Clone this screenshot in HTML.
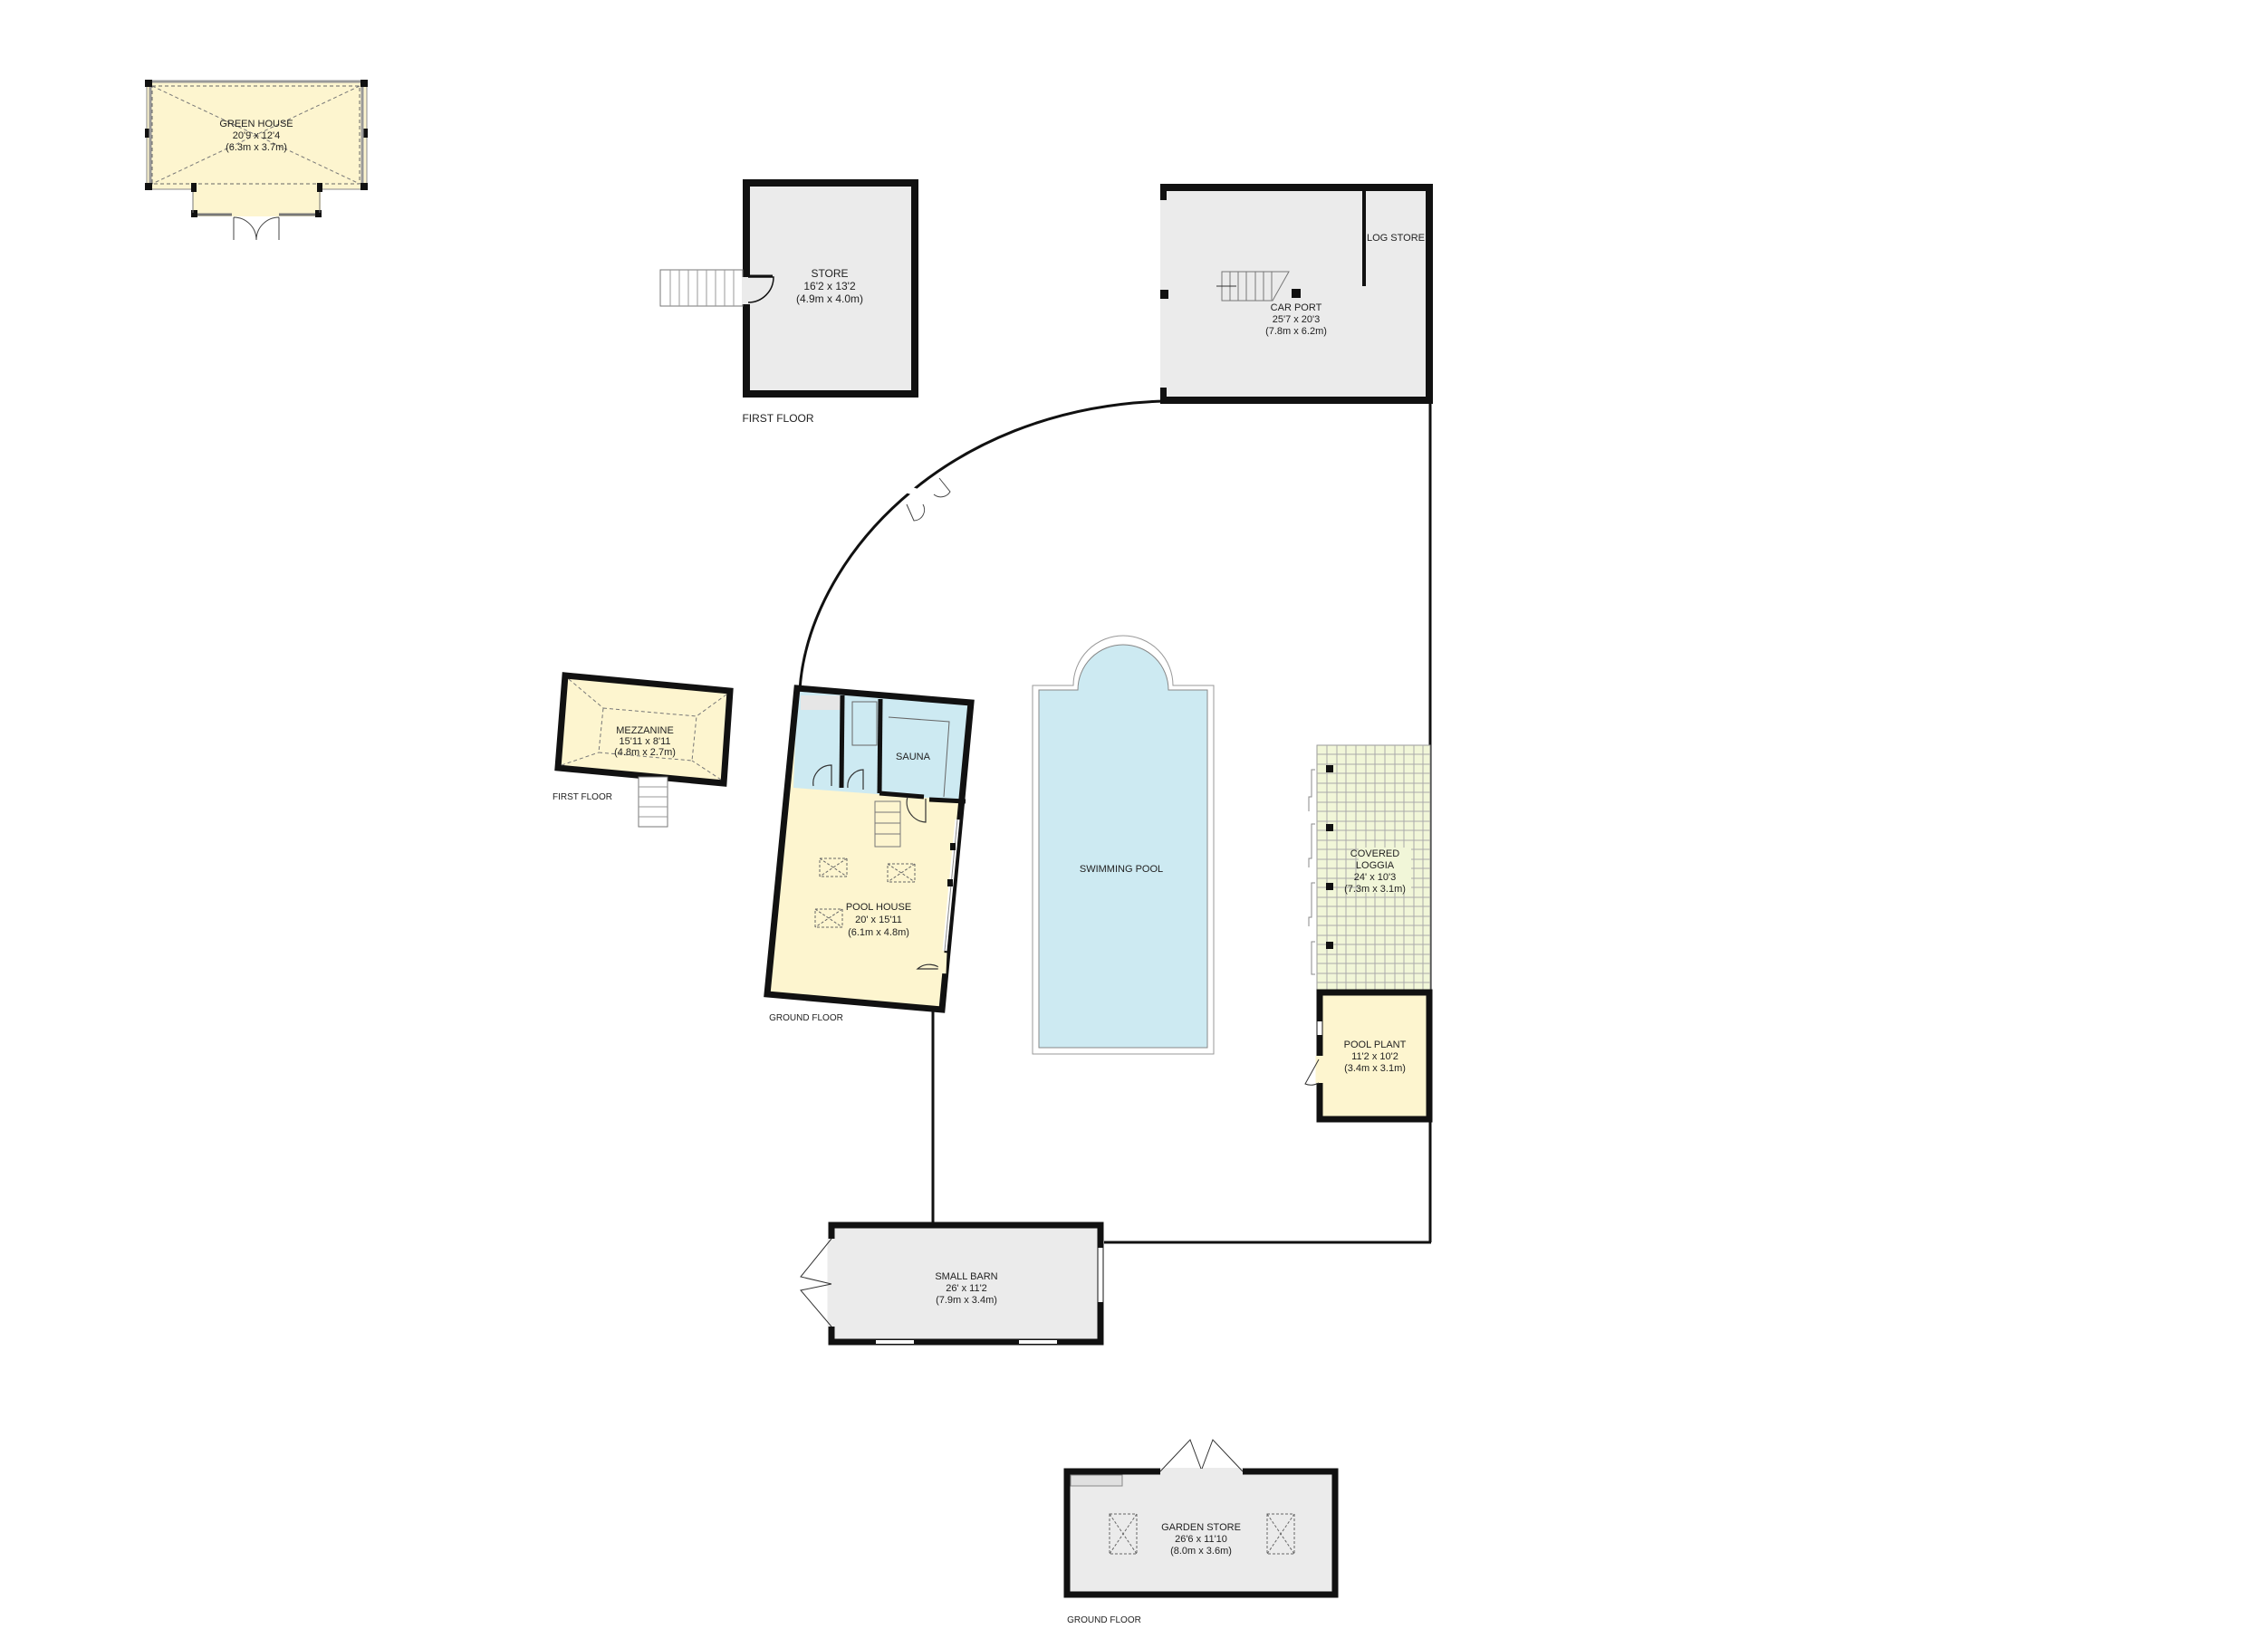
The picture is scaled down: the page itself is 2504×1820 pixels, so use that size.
<!DOCTYPE html>
<html><head><meta charset="utf-8"><style>
html,body{margin:0;padding:0;background:#fff}
svg{display:block}
text{font-family:"Liberation Sans",Arial,sans-serif;font-size:11px;fill:#222;text-anchor:middle}
</style></head><body>
<svg width="2504" height="1820" viewBox="0 0 2504 1820" xmlns="http://www.w3.org/2000/svg">
<!-- GREEN HOUSE -->
<rect x="162" y="89" width="243" height="120" fill="#fdf5cf" stroke="#888" stroke-width="1"/>
<rect x="213" y="205" width="141" height="34" fill="#fdf5cf"/>
<rect x="168" y="95" width="229" height="108" fill="none" stroke="#666" stroke-dasharray="4 3"/>
<line x1="168" y1="95" x2="397" y2="203" stroke="#777" stroke-dasharray="4 3"/>
<line x1="397" y1="95" x2="168" y2="203" stroke="#777" stroke-dasharray="4 3"/>
<rect x="160" y="88" width="8" height="8" fill="#111"/><rect x="398" y="88" width="8" height="8" fill="#111"/>
<rect x="160" y="202" width="8" height="8" fill="#111"/><rect x="398" y="202" width="8" height="8" fill="#111"/>
<rect x="160" y="142" width="6" height="10" fill="#111"/><rect x="400" y="142" width="6" height="10" fill="#111"/>
<rect x="211" y="202" width="6" height="10" fill="#111"/><rect x="350" y="202" width="6" height="10" fill="#111"/>
<rect x="211" y="232" width="7" height="8" fill="#111"/><rect x="348" y="232" width="7" height="8" fill="#111"/>
<line x1="213" y1="212" x2="213" y2="235" stroke="#777"/><line x1="353" y1="212" x2="353" y2="235" stroke="#777"/>
<line x1="218" y1="237" x2="256" y2="237" stroke="#777" stroke-width="3"/><line x1="308" y1="237" x2="348" y2="237" stroke="#777" stroke-width="3"/>
<line x1="166" y1="96" x2="166" y2="202" stroke="#999" stroke-width="3"/><line x1="400" y1="96" x2="400" y2="202" stroke="#999" stroke-width="3"/>
<line x1="168" y1="90" x2="398" y2="90" stroke="#999" stroke-width="3"/>
<path d="M258,240 V265 M258,240 A25,25 0 0 1 283,265 M308,240 V265 M308,240 A25,25 0 0 0 283,265" fill="none" stroke="#444"/>
<text x="283" y="140">GREEN HOUSE</text><text x="283" y="153">20'9 x 12'4</text><text x="283" y="166">(6.3m x 3.7m)</text>

<!-- STORE -->
<rect x="824" y="202" width="186" height="233" fill="#ebebeb" stroke="#111" stroke-width="8"/>
<g stroke="#777" fill="#fff"><rect x="729" y="298" width="91" height="40"/></g>
<g stroke="#999"><line x1="740" y1="298" x2="740" y2="338"/><line x1="750" y1="298" x2="750" y2="338"/><line x1="760" y1="298" x2="760" y2="338"/><line x1="770" y1="298" x2="770" y2="338"/><line x1="780" y1="298" x2="780" y2="338"/><line x1="790" y1="298" x2="790" y2="338"/><line x1="800" y1="298" x2="800" y2="338"/><line x1="810" y1="298" x2="810" y2="338"/></g>
<rect x="819" y="306" width="10" height="30" fill="#ebebeb"/>
<path d="M826,306 H854 A28,28 0 0 1 826,334" fill="none" stroke="#111" stroke-width="1.5"/>
<line x1="826" y1="305" x2="853" y2="305" stroke="#111" stroke-width="3"/>
<text x="916" y="306" style="font-size:12px">STORE</text><text x="916" y="320" style="font-size:12px">16'2 x 13'2</text><text x="916" y="334" style="font-size:12px">(4.9m x 4.0m)</text>
<text x="859" y="466" style="font-size:12px">FIRST FLOOR</text>

<!-- CAR PORT -->
<rect x="1281" y="207" width="297" height="235" fill="#ebebeb"/>
<path d="M1281,207 H1578 V442 H1281" fill="none" stroke="#111" stroke-width="8"/>
<rect x="1281" y="203" width="7" height="18" fill="#111"/><rect x="1281" y="320" width="9" height="10" fill="#111"/><rect x="1281" y="428" width="7" height="15" fill="#111"/>
<line x1="1506" y1="208" x2="1506" y2="316" stroke="#111" stroke-width="4"/>
<rect x="1426" y="319" width="10" height="10" fill="#111"/>
<g stroke="#777" fill="none"><path d="M1349,300 H1423 L1405,332 H1349 Z"/><line x1="1358" y1="300" x2="1358" y2="332"/><line x1="1367" y1="300" x2="1367" y2="332"/><line x1="1376" y1="300" x2="1376" y2="332"/><line x1="1386" y1="300" x2="1386" y2="332"/><line x1="1395" y1="300" x2="1395" y2="332"/><line x1="1404" y1="300" x2="1404" y2="332"/><line x1="1343" y1="316" x2="1365" y2="316" stroke="#333"/></g>
<text x="1431" y="343">CAR PORT</text><text x="1431" y="356">25'7 x 20'3</text><text x="1431" y="369">(7.8m x 6.2m)</text>
<text x="1541" y="266">LOG STORE</text>

<!-- boundary lines -->
<path d="M1285,443 C1040,450 892,620 883,762" fill="none" stroke="#111" stroke-width="3"/>
<line x1="1000" y1="540" x2="1046" y2="554" stroke="#fff" stroke-width="8"/>
<path d="M1037,528 l12,15 a12,12 0 0 1 -18,3 M1001,557 l8,18 a12,12 0 0 0 10,-18" fill="none" stroke="#444"/>
<line x1="1579" y1="442" x2="1579" y2="1372" stroke="#111" stroke-width="3"/>
<line x1="1219" y1="1372" x2="1580" y2="1372" stroke="#111" stroke-width="3"/>
<line x1="1030" y1="1112" x2="1030" y2="1352" stroke="#111" stroke-width="3"/>

<!-- MEZZANINE -->
<polygon points="624,746 806,763 799,865 616,848" fill="#fdf5cf" stroke="#111" stroke-width="7"/>
<polygon points="666,782 769,791 764,840 661,831" fill="none" stroke="#777" stroke-dasharray="4 3"/>
<g stroke="#777" stroke-dasharray="4 3"><line x1="628" y1="750" x2="666" y2="782"/><line x1="802" y1="767" x2="769" y2="791"/><line x1="796" y1="861" x2="764" y2="840"/><line x1="620" y1="845" x2="661" y2="831"/></g>
<rect x="705" y="858" width="32" height="55" fill="#fff" stroke="#777"/>
<g stroke="#999"><line x1="705" y1="869" x2="737" y2="869"/><line x1="705" y1="880" x2="737" y2="880"/><line x1="705" y1="891" x2="737" y2="891"/><line x1="705" y1="902" x2="737" y2="902"/></g>
<text x="712" y="810">MEZZANINE</text><text x="712" y="822">15'11 x 8'11</text><text x="712" y="834">(4.8m x 2.7m)</text>
<text x="643" y="883" style="font-size:10px">FIRST FLOOR</text>

<!-- POOL HOUSE -->
<polygon points="880,760 1072,776 1040,1115 847,1098" fill="#fdf5cf"/>
<polygon points="880,760 1072,776 1061,884 876,870" fill="#cdeaf2"/>
<rect x="884" y="768" width="46" height="16" fill="#e6e6e6"/>
<g stroke="#111" stroke-width="5" fill="none"><line x1="930" y1="768" x2="929" y2="870"/><line x1="972" y1="772" x2="971" y2="876"/><line x1="971" y1="876" x2="1020" y2="880"/><line x1="1026" y1="883" x2="1066" y2="885"/></g>
<rect x="941" y="775" width="27" height="48" fill="none" stroke="#666"/>
<path d="M981,792 L1048,797 L1042,880" fill="none" stroke="#666"/>
<path d="M898,868 A20,20 0 0 1 918,845 V868 M936,870 A18,18 0 0 1 953,850 V872 M1002,880 A22,22 0 0 0 1022,908 V882" fill="none" stroke="#333" stroke-width="1.2"/>
<path d="M1041,1072 A20,20 0 0 0 1013,1070 H1040" fill="none" stroke="#333" stroke-width="1.2"/>
<g stroke="#777" fill="none"><rect x="966" y="885" width="28" height="50"/><line x1="966" y1="897" x2="994" y2="897"/><line x1="966" y1="909" x2="994" y2="909"/><line x1="966" y1="921" x2="994" y2="921"/></g>
<g stroke="#666" stroke-dasharray="3 2" fill="none"><rect x="905" y="948" width="30" height="20"/><rect x="980" y="954" width="30" height="20"/><rect x="900" y="1004" width="30" height="20"/>
<path d="M905,948 L935,968 M935,948 L905,968 M980,954 L1010,974 M1010,954 L980,974 M900,1004 L930,1024 M930,1004 L900,1024"/></g>
<polygon points="880,760 1072,776 1040,1115 847,1098" fill="none" stroke="#111" stroke-width="7"/>
<line x1="1057" y1="905" x2="1043" y2="1050" stroke="#fff" stroke-width="5"/>
<line x1="1057" y1="905" x2="1043" y2="1050" stroke="#888" stroke-width="1"/>
<rect x="1049" y="931" width="6" height="8" fill="#111"/><rect x="1046" y="971" width="6" height="8" fill="#111"/>
<line x1="1041" y1="1052" x2="1040" y2="1075" stroke="#fdf5cf" stroke-width="9"/>
<text x="1008" y="839">SAUNA</text>
<text x="970" y="1005">POOL HOUSE</text><text x="970" y="1019">20' x 15'11</text><text x="970" y="1033">(6.1m x 4.8m)</text>
<text x="890" y="1127" style="font-size:10px">GROUND FLOOR</text>

<!-- SWIMMING POOL -->
<path d="M1140,1164 V757 H1185 A55,55 0 0 1 1295,757 H1340 V1164 Z" fill="#fff" stroke="#999"/>
<path d="M1147,1157 V762 H1190 A50,50 0 0 1 1290,762 H1333 V1157 Z" fill="#cdeaf2" stroke="#888"/>
<text x="1238" y="963">SWIMMING POOL</text>

<!-- LOGGIA -->
<rect x="1454" y="823" width="125" height="270" fill="#f1f6d8" stroke="#999"/>
<g stroke="#aaa" stroke-width="1">
<path d="M1465,823V1093M1476,823V1093M1486,823V1093M1497,823V1093M1508,823V1093M1518,823V1093M1529,823V1093M1540,823V1093M1550,823V1093M1561,823V1093M1571,823V1093"/>
<path d="M1454,833H1579M1454,844H1579M1454,854H1579M1454,865H1579M1454,875H1579M1454,886H1579M1454,896H1579M1454,907H1579M1454,917H1579M1454,928H1579M1454,938H1579M1454,949H1579M1454,959H1579M1454,970H1579M1454,980H1579M1454,991H1579M1454,1001H1579M1454,1012H1579M1454,1022H1579M1454,1033H1579M1454,1043H1579M1454,1054H1579M1454,1064H1579M1454,1075H1579M1454,1085H1579"/>
</g>
<rect x="1500" y="936" width="58" height="50" fill="#f1f6d8"/>
<path d="M1452,850 h-4 v30 h-3 v16 M1452,910 h-4 v38 h-3 v10 M1452,975 h-4 v38 h-3 v10 M1452,1040 h-4 v36 h4" fill="none" stroke="#888"/>
<rect x="1464" y="845" width="8" height="8" fill="#111"/><rect x="1464" y="910" width="8" height="8" fill="#111"/><rect x="1464" y="975" width="8" height="8" fill="#111"/><rect x="1464" y="1040" width="8" height="8" fill="#111"/>
<text x="1518" y="946">COVERED</text><text x="1518" y="959">LOGGIA</text><text x="1518" y="972">24' x 10'3</text><text x="1518" y="985">(7.3m x 3.1m)</text>

<!-- POOL PLANT -->
<rect x="1457" y="1096" width="121" height="140" fill="#fdf5cf" stroke="#111" stroke-width="7"/>
<line x1="1457" y1="1128" x2="1457" y2="1143" stroke="#fff" stroke-width="5"/>
<line x1="1457" y1="1166" x2="1457" y2="1196" stroke="#fdf5cf" stroke-width="9"/>
<path d="M1456,1170 L1441,1197 Q1448,1200 1456,1196" fill="none" stroke="#333"/>
<text x="1518" y="1157">POOL PLANT</text><text x="1518" y="1170">11'2 x 10'2</text><text x="1518" y="1183">(3.4m x 3.1m)</text>

<!-- SMALL BARN -->
<rect x="918" y="1353" width="297" height="129" fill="#ebebeb" stroke="#111" stroke-width="7"/>
<line x1="918" y1="1368" x2="918" y2="1465" stroke="#ebebeb" stroke-width="9"/>
<path d="M918,1368 L884,1410 L918,1418 M918,1465 L884,1425 L918,1418" fill="none" stroke="#333"/>
<line x1="1215" y1="1378" x2="1215" y2="1438" stroke="#fff" stroke-width="5"/>
<line x1="967" y1="1482" x2="1009" y2="1482" stroke="#fff" stroke-width="4"/>
<line x1="1125" y1="1482" x2="1167" y2="1482" stroke="#fff" stroke-width="4"/>
<text x="1067" y="1413">SMALL BARN</text><text x="1067" y="1426">26' x 11'2</text><text x="1067" y="1439">(7.9m x 3.4m)</text>

<!-- GARDEN STORE -->
<rect x="1178" y="1625" width="296" height="136" fill="#ebebeb" stroke="#111" stroke-width="7"/>
<rect x="1182" y="1629" width="57" height="12" fill="#e0e0e0" stroke="#888"/>
<line x1="1281" y1="1625" x2="1372" y2="1625" stroke="#ebebeb" stroke-width="8"/>
<path d="M1281,1625 L1314,1590 L1326,1622 M1372,1625 L1339,1590 L1327,1622" fill="none" stroke="#333"/>
<g stroke="#666" stroke-dasharray="3 2" fill="none"><rect x="1225" y="1672" width="30" height="44"/><rect x="1399" y="1672" width="30" height="44"/><path d="M1225,1672 L1255,1716 M1255,1672 L1225,1716 M1399,1672 L1429,1716 M1429,1672 L1399,1716"/></g>
<text x="1326" y="1690">GARDEN STORE</text><text x="1326" y="1703">26'6 x 11'10</text><text x="1326" y="1716">(8.0m x 3.6m)</text>
<text x="1219" y="1792" style="font-size:10px">GROUND FLOOR</text>
</svg>
</body></html>
